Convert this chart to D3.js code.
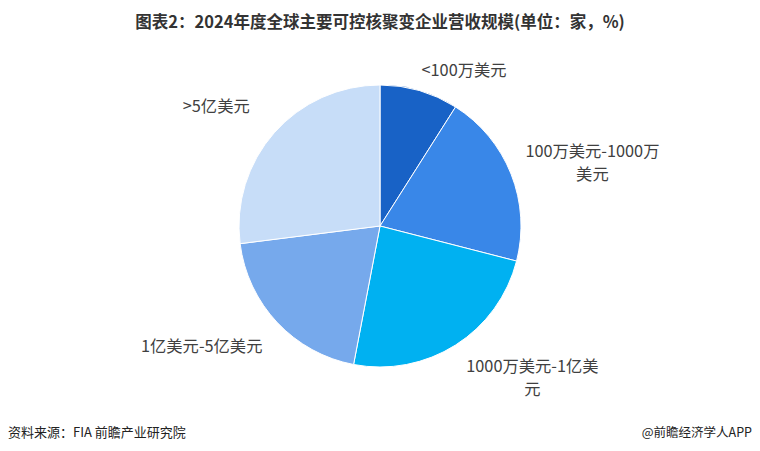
<!DOCTYPE html>
<html>
<head>
<meta charset="utf-8">
<script src="https://cdn.jsdelivr.net/npm/d3@7"></script>
<style>
html,body{margin:0;padding:0;background:#fff;}
svg{display:block;}
</style>
</head>
<body>
<svg id="chart" width="760" height="451"></svg>
<script>
const categories = ["<100万美元", "100万美元-1000万美元", "1000万美元-1亿美元", "1亿美元-5亿美元", ">5亿美元"];
const labelLines = [["<100万美元"], ["100万美元-1000万", "美元"], ["1000万美元-1亿美", "元"], ["1亿美元-5亿美元"], [">5亿美元"]];
const values = [9, 20, 24, 20, 27];
const colors = ["#1862c6", "#3987e8", "#00b1f1", "#76a9ec", "#c7ddf8"];

const svg = d3.select("#chart");
const W = 760, H = 451;
const cx = 380, cy = 226, R = 141;

svg.append("text")
  .attr("x", W/2).attr("y", 28)
  .attr("text-anchor", "middle")
  .attr("font-family", "'Noto Sans CJK SC', sans-serif")
  .attr("font-weight", "bold")
  .attr("font-size", 16.5)
  .attr("fill", "#333")
  .text("图表2：2024年度全球主要可控核聚变企业营收规模(单位：家，%)");

const pie = d3.pie().sort(null).value(d => d);
const arcs = pie(values);
const arc = d3.arc().innerRadius(0).outerRadius(R);

const g = svg.append("g").attr("transform", `translate(${cx},${cy})`);
g.selectAll("path").data(arcs).join("path")
  .attr("d", arc)
  .attr("fill", (d,i) => colors[i])
  .attr("stroke", "#fff")
  .attr("stroke-width", 1);

// label placement: point on mid-angle at a label radius, with small offsets
const labelArc = d3.arc().innerRadius(R + 24).outerRadius(R + 24);
const tweak = [[38, 3], [59, -13], [64, 2], [-58, 8], [-40, -10]];
const lineGap = 23;
arcs.forEach((d, i) => {
  const c = labelArc.centroid(d);
  labelLines[i].forEach((ln, k) => {
    g.append("text")
      .attr("text-anchor", "middle")
      .attr("font-family", "'Noto Sans CJK SC', sans-serif")
      .attr("font-size", 16.3)
      .attr("fill", "#404040")
      .attr("x", c[0] + tweak[i][0])
      .attr("y", c[1] + tweak[i][1] + k * lineGap + 5)
      .text(ln);
  });
});

svg.append("text")
  .attr("x", 8).attr("y", 437)
  .attr("font-family", "'Noto Sans CJK SC', sans-serif")
  .attr("font-size", 13)
  .attr("fill", "#222")
  .text("资料来源：FIA 前瞻产业研究院");

svg.append("text")
  .attr("x", 752).attr("y", 437)
  .attr("text-anchor", "end")
  .attr("font-family", "'Noto Sans CJK SC', sans-serif")
  .attr("font-size", 12.5)
  .attr("fill", "#222")
  .text("@前瞻经济学人APP");
</script>
</body>
</html>
